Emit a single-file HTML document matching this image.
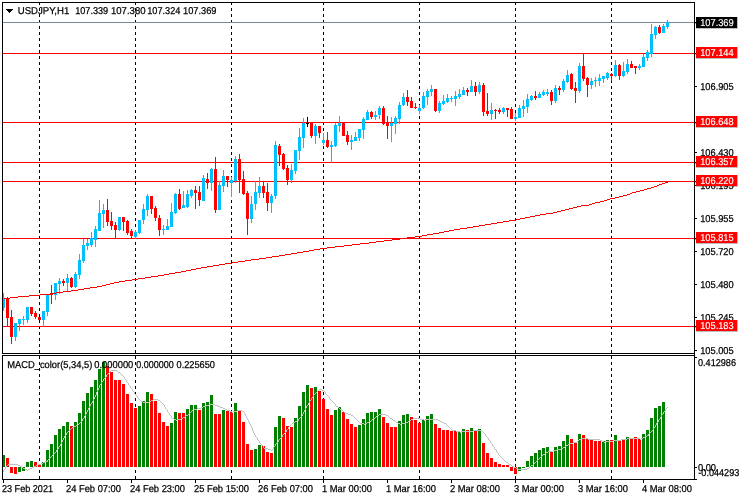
<!DOCTYPE html>
<html><head><meta charset="utf-8"><title>USDJPY,H1</title>
<style>html,body{margin:0;padding:0;background:#fff}body{width:740px;height:500px;overflow:hidden}svg{display:block}</style>
</head><body>
<svg width="740" height="500" viewBox="0 0 740 500" shape-rendering="crispEdges">
<rect width="740" height="500" fill="#fff"/>
<rect x="39" y="3" width="1" height="2" fill="#000"/>
<rect x="39" y="8" width="1" height="3" fill="#000"/>
<rect x="39" y="14" width="1" height="3" fill="#000"/>
<rect x="39" y="20" width="1" height="3" fill="#000"/>
<rect x="39" y="26" width="1" height="3" fill="#000"/>
<rect x="39" y="32" width="1" height="3" fill="#000"/>
<rect x="39" y="38" width="1" height="3" fill="#000"/>
<rect x="39" y="44" width="1" height="3" fill="#000"/>
<rect x="39" y="50" width="1" height="3" fill="#000"/>
<rect x="39" y="56" width="1" height="3" fill="#000"/>
<rect x="39" y="62" width="1" height="3" fill="#000"/>
<rect x="39" y="68" width="1" height="3" fill="#000"/>
<rect x="39" y="74" width="1" height="3" fill="#000"/>
<rect x="39" y="80" width="1" height="3" fill="#000"/>
<rect x="39" y="86" width="1" height="3" fill="#000"/>
<rect x="39" y="92" width="1" height="3" fill="#000"/>
<rect x="39" y="98" width="1" height="3" fill="#000"/>
<rect x="39" y="104" width="1" height="3" fill="#000"/>
<rect x="39" y="110" width="1" height="3" fill="#000"/>
<rect x="39" y="116" width="1" height="3" fill="#000"/>
<rect x="39" y="122" width="1" height="3" fill="#000"/>
<rect x="39" y="128" width="1" height="3" fill="#000"/>
<rect x="39" y="134" width="1" height="3" fill="#000"/>
<rect x="39" y="140" width="1" height="3" fill="#000"/>
<rect x="39" y="146" width="1" height="3" fill="#000"/>
<rect x="39" y="152" width="1" height="3" fill="#000"/>
<rect x="39" y="158" width="1" height="3" fill="#000"/>
<rect x="39" y="164" width="1" height="3" fill="#000"/>
<rect x="39" y="170" width="1" height="3" fill="#000"/>
<rect x="39" y="176" width="1" height="3" fill="#000"/>
<rect x="39" y="182" width="1" height="3" fill="#000"/>
<rect x="39" y="188" width="1" height="3" fill="#000"/>
<rect x="39" y="194" width="1" height="3" fill="#000"/>
<rect x="39" y="200" width="1" height="3" fill="#000"/>
<rect x="39" y="206" width="1" height="3" fill="#000"/>
<rect x="39" y="212" width="1" height="3" fill="#000"/>
<rect x="39" y="218" width="1" height="3" fill="#000"/>
<rect x="39" y="224" width="1" height="3" fill="#000"/>
<rect x="39" y="230" width="1" height="3" fill="#000"/>
<rect x="39" y="236" width="1" height="3" fill="#000"/>
<rect x="39" y="242" width="1" height="3" fill="#000"/>
<rect x="39" y="248" width="1" height="3" fill="#000"/>
<rect x="39" y="254" width="1" height="3" fill="#000"/>
<rect x="39" y="260" width="1" height="3" fill="#000"/>
<rect x="39" y="266" width="1" height="3" fill="#000"/>
<rect x="39" y="272" width="1" height="3" fill="#000"/>
<rect x="39" y="278" width="1" height="3" fill="#000"/>
<rect x="39" y="284" width="1" height="3" fill="#000"/>
<rect x="39" y="290" width="1" height="3" fill="#000"/>
<rect x="39" y="296" width="1" height="3" fill="#000"/>
<rect x="39" y="302" width="1" height="3" fill="#000"/>
<rect x="39" y="308" width="1" height="3" fill="#000"/>
<rect x="39" y="314" width="1" height="3" fill="#000"/>
<rect x="39" y="320" width="1" height="3" fill="#000"/>
<rect x="39" y="326" width="1" height="3" fill="#000"/>
<rect x="39" y="332" width="1" height="3" fill="#000"/>
<rect x="39" y="338" width="1" height="3" fill="#000"/>
<rect x="39" y="344" width="1" height="3" fill="#000"/>
<rect x="39" y="350" width="1" height="3" fill="#000"/>
<rect x="39" y="356" width="1" height="3" fill="#000"/>
<rect x="39" y="362" width="1" height="3" fill="#000"/>
<rect x="39" y="368" width="1" height="3" fill="#000"/>
<rect x="39" y="374" width="1" height="3" fill="#000"/>
<rect x="39" y="380" width="1" height="3" fill="#000"/>
<rect x="39" y="386" width="1" height="3" fill="#000"/>
<rect x="39" y="392" width="1" height="3" fill="#000"/>
<rect x="39" y="398" width="1" height="3" fill="#000"/>
<rect x="39" y="404" width="1" height="3" fill="#000"/>
<rect x="39" y="410" width="1" height="3" fill="#000"/>
<rect x="39" y="416" width="1" height="3" fill="#000"/>
<rect x="39" y="422" width="1" height="3" fill="#000"/>
<rect x="39" y="428" width="1" height="3" fill="#000"/>
<rect x="39" y="434" width="1" height="3" fill="#000"/>
<rect x="39" y="440" width="1" height="3" fill="#000"/>
<rect x="39" y="446" width="1" height="3" fill="#000"/>
<rect x="39" y="452" width="1" height="3" fill="#000"/>
<rect x="39" y="458" width="1" height="3" fill="#000"/>
<rect x="39" y="464" width="1" height="3" fill="#000"/>
<rect x="39" y="470" width="1" height="3" fill="#000"/>
<rect x="39" y="476" width="1" height="3" fill="#000"/>
<rect x="135" y="3" width="1" height="2" fill="#000"/>
<rect x="135" y="8" width="1" height="3" fill="#000"/>
<rect x="135" y="14" width="1" height="3" fill="#000"/>
<rect x="135" y="20" width="1" height="3" fill="#000"/>
<rect x="135" y="26" width="1" height="3" fill="#000"/>
<rect x="135" y="32" width="1" height="3" fill="#000"/>
<rect x="135" y="38" width="1" height="3" fill="#000"/>
<rect x="135" y="44" width="1" height="3" fill="#000"/>
<rect x="135" y="50" width="1" height="3" fill="#000"/>
<rect x="135" y="56" width="1" height="3" fill="#000"/>
<rect x="135" y="62" width="1" height="3" fill="#000"/>
<rect x="135" y="68" width="1" height="3" fill="#000"/>
<rect x="135" y="74" width="1" height="3" fill="#000"/>
<rect x="135" y="80" width="1" height="3" fill="#000"/>
<rect x="135" y="86" width="1" height="3" fill="#000"/>
<rect x="135" y="92" width="1" height="3" fill="#000"/>
<rect x="135" y="98" width="1" height="3" fill="#000"/>
<rect x="135" y="104" width="1" height="3" fill="#000"/>
<rect x="135" y="110" width="1" height="3" fill="#000"/>
<rect x="135" y="116" width="1" height="3" fill="#000"/>
<rect x="135" y="122" width="1" height="3" fill="#000"/>
<rect x="135" y="128" width="1" height="3" fill="#000"/>
<rect x="135" y="134" width="1" height="3" fill="#000"/>
<rect x="135" y="140" width="1" height="3" fill="#000"/>
<rect x="135" y="146" width="1" height="3" fill="#000"/>
<rect x="135" y="152" width="1" height="3" fill="#000"/>
<rect x="135" y="158" width="1" height="3" fill="#000"/>
<rect x="135" y="164" width="1" height="3" fill="#000"/>
<rect x="135" y="170" width="1" height="3" fill="#000"/>
<rect x="135" y="176" width="1" height="3" fill="#000"/>
<rect x="135" y="182" width="1" height="3" fill="#000"/>
<rect x="135" y="188" width="1" height="3" fill="#000"/>
<rect x="135" y="194" width="1" height="3" fill="#000"/>
<rect x="135" y="200" width="1" height="3" fill="#000"/>
<rect x="135" y="206" width="1" height="3" fill="#000"/>
<rect x="135" y="212" width="1" height="3" fill="#000"/>
<rect x="135" y="218" width="1" height="3" fill="#000"/>
<rect x="135" y="224" width="1" height="3" fill="#000"/>
<rect x="135" y="230" width="1" height="3" fill="#000"/>
<rect x="135" y="236" width="1" height="3" fill="#000"/>
<rect x="135" y="242" width="1" height="3" fill="#000"/>
<rect x="135" y="248" width="1" height="3" fill="#000"/>
<rect x="135" y="254" width="1" height="3" fill="#000"/>
<rect x="135" y="260" width="1" height="3" fill="#000"/>
<rect x="135" y="266" width="1" height="3" fill="#000"/>
<rect x="135" y="272" width="1" height="3" fill="#000"/>
<rect x="135" y="278" width="1" height="3" fill="#000"/>
<rect x="135" y="284" width="1" height="3" fill="#000"/>
<rect x="135" y="290" width="1" height="3" fill="#000"/>
<rect x="135" y="296" width="1" height="3" fill="#000"/>
<rect x="135" y="302" width="1" height="3" fill="#000"/>
<rect x="135" y="308" width="1" height="3" fill="#000"/>
<rect x="135" y="314" width="1" height="3" fill="#000"/>
<rect x="135" y="320" width="1" height="3" fill="#000"/>
<rect x="135" y="326" width="1" height="3" fill="#000"/>
<rect x="135" y="332" width="1" height="3" fill="#000"/>
<rect x="135" y="338" width="1" height="3" fill="#000"/>
<rect x="135" y="344" width="1" height="3" fill="#000"/>
<rect x="135" y="350" width="1" height="3" fill="#000"/>
<rect x="135" y="356" width="1" height="3" fill="#000"/>
<rect x="135" y="362" width="1" height="3" fill="#000"/>
<rect x="135" y="368" width="1" height="3" fill="#000"/>
<rect x="135" y="374" width="1" height="3" fill="#000"/>
<rect x="135" y="380" width="1" height="3" fill="#000"/>
<rect x="135" y="386" width="1" height="3" fill="#000"/>
<rect x="135" y="392" width="1" height="3" fill="#000"/>
<rect x="135" y="398" width="1" height="3" fill="#000"/>
<rect x="135" y="404" width="1" height="3" fill="#000"/>
<rect x="135" y="410" width="1" height="3" fill="#000"/>
<rect x="135" y="416" width="1" height="3" fill="#000"/>
<rect x="135" y="422" width="1" height="3" fill="#000"/>
<rect x="135" y="428" width="1" height="3" fill="#000"/>
<rect x="135" y="434" width="1" height="3" fill="#000"/>
<rect x="135" y="440" width="1" height="3" fill="#000"/>
<rect x="135" y="446" width="1" height="3" fill="#000"/>
<rect x="135" y="452" width="1" height="3" fill="#000"/>
<rect x="135" y="458" width="1" height="3" fill="#000"/>
<rect x="135" y="464" width="1" height="3" fill="#000"/>
<rect x="135" y="470" width="1" height="3" fill="#000"/>
<rect x="135" y="476" width="1" height="3" fill="#000"/>
<rect x="231" y="3" width="1" height="2" fill="#000"/>
<rect x="231" y="8" width="1" height="3" fill="#000"/>
<rect x="231" y="14" width="1" height="3" fill="#000"/>
<rect x="231" y="20" width="1" height="3" fill="#000"/>
<rect x="231" y="26" width="1" height="3" fill="#000"/>
<rect x="231" y="32" width="1" height="3" fill="#000"/>
<rect x="231" y="38" width="1" height="3" fill="#000"/>
<rect x="231" y="44" width="1" height="3" fill="#000"/>
<rect x="231" y="50" width="1" height="3" fill="#000"/>
<rect x="231" y="56" width="1" height="3" fill="#000"/>
<rect x="231" y="62" width="1" height="3" fill="#000"/>
<rect x="231" y="68" width="1" height="3" fill="#000"/>
<rect x="231" y="74" width="1" height="3" fill="#000"/>
<rect x="231" y="80" width="1" height="3" fill="#000"/>
<rect x="231" y="86" width="1" height="3" fill="#000"/>
<rect x="231" y="92" width="1" height="3" fill="#000"/>
<rect x="231" y="98" width="1" height="3" fill="#000"/>
<rect x="231" y="104" width="1" height="3" fill="#000"/>
<rect x="231" y="110" width="1" height="3" fill="#000"/>
<rect x="231" y="116" width="1" height="3" fill="#000"/>
<rect x="231" y="122" width="1" height="3" fill="#000"/>
<rect x="231" y="128" width="1" height="3" fill="#000"/>
<rect x="231" y="134" width="1" height="3" fill="#000"/>
<rect x="231" y="140" width="1" height="3" fill="#000"/>
<rect x="231" y="146" width="1" height="3" fill="#000"/>
<rect x="231" y="152" width="1" height="3" fill="#000"/>
<rect x="231" y="158" width="1" height="3" fill="#000"/>
<rect x="231" y="164" width="1" height="3" fill="#000"/>
<rect x="231" y="170" width="1" height="3" fill="#000"/>
<rect x="231" y="176" width="1" height="3" fill="#000"/>
<rect x="231" y="182" width="1" height="3" fill="#000"/>
<rect x="231" y="188" width="1" height="3" fill="#000"/>
<rect x="231" y="194" width="1" height="3" fill="#000"/>
<rect x="231" y="200" width="1" height="3" fill="#000"/>
<rect x="231" y="206" width="1" height="3" fill="#000"/>
<rect x="231" y="212" width="1" height="3" fill="#000"/>
<rect x="231" y="218" width="1" height="3" fill="#000"/>
<rect x="231" y="224" width="1" height="3" fill="#000"/>
<rect x="231" y="230" width="1" height="3" fill="#000"/>
<rect x="231" y="236" width="1" height="3" fill="#000"/>
<rect x="231" y="242" width="1" height="3" fill="#000"/>
<rect x="231" y="248" width="1" height="3" fill="#000"/>
<rect x="231" y="254" width="1" height="3" fill="#000"/>
<rect x="231" y="260" width="1" height="3" fill="#000"/>
<rect x="231" y="266" width="1" height="3" fill="#000"/>
<rect x="231" y="272" width="1" height="3" fill="#000"/>
<rect x="231" y="278" width="1" height="3" fill="#000"/>
<rect x="231" y="284" width="1" height="3" fill="#000"/>
<rect x="231" y="290" width="1" height="3" fill="#000"/>
<rect x="231" y="296" width="1" height="3" fill="#000"/>
<rect x="231" y="302" width="1" height="3" fill="#000"/>
<rect x="231" y="308" width="1" height="3" fill="#000"/>
<rect x="231" y="314" width="1" height="3" fill="#000"/>
<rect x="231" y="320" width="1" height="3" fill="#000"/>
<rect x="231" y="326" width="1" height="3" fill="#000"/>
<rect x="231" y="332" width="1" height="3" fill="#000"/>
<rect x="231" y="338" width="1" height="3" fill="#000"/>
<rect x="231" y="344" width="1" height="3" fill="#000"/>
<rect x="231" y="350" width="1" height="3" fill="#000"/>
<rect x="231" y="356" width="1" height="3" fill="#000"/>
<rect x="231" y="362" width="1" height="3" fill="#000"/>
<rect x="231" y="368" width="1" height="3" fill="#000"/>
<rect x="231" y="374" width="1" height="3" fill="#000"/>
<rect x="231" y="380" width="1" height="3" fill="#000"/>
<rect x="231" y="386" width="1" height="3" fill="#000"/>
<rect x="231" y="392" width="1" height="3" fill="#000"/>
<rect x="231" y="398" width="1" height="3" fill="#000"/>
<rect x="231" y="404" width="1" height="3" fill="#000"/>
<rect x="231" y="410" width="1" height="3" fill="#000"/>
<rect x="231" y="416" width="1" height="3" fill="#000"/>
<rect x="231" y="422" width="1" height="3" fill="#000"/>
<rect x="231" y="428" width="1" height="3" fill="#000"/>
<rect x="231" y="434" width="1" height="3" fill="#000"/>
<rect x="231" y="440" width="1" height="3" fill="#000"/>
<rect x="231" y="446" width="1" height="3" fill="#000"/>
<rect x="231" y="452" width="1" height="3" fill="#000"/>
<rect x="231" y="458" width="1" height="3" fill="#000"/>
<rect x="231" y="464" width="1" height="3" fill="#000"/>
<rect x="231" y="470" width="1" height="3" fill="#000"/>
<rect x="231" y="476" width="1" height="3" fill="#000"/>
<rect x="323" y="3" width="1" height="2" fill="#000"/>
<rect x="323" y="8" width="1" height="3" fill="#000"/>
<rect x="323" y="14" width="1" height="3" fill="#000"/>
<rect x="323" y="20" width="1" height="3" fill="#000"/>
<rect x="323" y="26" width="1" height="3" fill="#000"/>
<rect x="323" y="32" width="1" height="3" fill="#000"/>
<rect x="323" y="38" width="1" height="3" fill="#000"/>
<rect x="323" y="44" width="1" height="3" fill="#000"/>
<rect x="323" y="50" width="1" height="3" fill="#000"/>
<rect x="323" y="56" width="1" height="3" fill="#000"/>
<rect x="323" y="62" width="1" height="3" fill="#000"/>
<rect x="323" y="68" width="1" height="3" fill="#000"/>
<rect x="323" y="74" width="1" height="3" fill="#000"/>
<rect x="323" y="80" width="1" height="3" fill="#000"/>
<rect x="323" y="86" width="1" height="3" fill="#000"/>
<rect x="323" y="92" width="1" height="3" fill="#000"/>
<rect x="323" y="98" width="1" height="3" fill="#000"/>
<rect x="323" y="104" width="1" height="3" fill="#000"/>
<rect x="323" y="110" width="1" height="3" fill="#000"/>
<rect x="323" y="116" width="1" height="3" fill="#000"/>
<rect x="323" y="122" width="1" height="3" fill="#000"/>
<rect x="323" y="128" width="1" height="3" fill="#000"/>
<rect x="323" y="134" width="1" height="3" fill="#000"/>
<rect x="323" y="140" width="1" height="3" fill="#000"/>
<rect x="323" y="146" width="1" height="3" fill="#000"/>
<rect x="323" y="152" width="1" height="3" fill="#000"/>
<rect x="323" y="158" width="1" height="3" fill="#000"/>
<rect x="323" y="164" width="1" height="3" fill="#000"/>
<rect x="323" y="170" width="1" height="3" fill="#000"/>
<rect x="323" y="176" width="1" height="3" fill="#000"/>
<rect x="323" y="182" width="1" height="3" fill="#000"/>
<rect x="323" y="188" width="1" height="3" fill="#000"/>
<rect x="323" y="194" width="1" height="3" fill="#000"/>
<rect x="323" y="200" width="1" height="3" fill="#000"/>
<rect x="323" y="206" width="1" height="3" fill="#000"/>
<rect x="323" y="212" width="1" height="3" fill="#000"/>
<rect x="323" y="218" width="1" height="3" fill="#000"/>
<rect x="323" y="224" width="1" height="3" fill="#000"/>
<rect x="323" y="230" width="1" height="3" fill="#000"/>
<rect x="323" y="236" width="1" height="3" fill="#000"/>
<rect x="323" y="242" width="1" height="3" fill="#000"/>
<rect x="323" y="248" width="1" height="3" fill="#000"/>
<rect x="323" y="254" width="1" height="3" fill="#000"/>
<rect x="323" y="260" width="1" height="3" fill="#000"/>
<rect x="323" y="266" width="1" height="3" fill="#000"/>
<rect x="323" y="272" width="1" height="3" fill="#000"/>
<rect x="323" y="278" width="1" height="3" fill="#000"/>
<rect x="323" y="284" width="1" height="3" fill="#000"/>
<rect x="323" y="290" width="1" height="3" fill="#000"/>
<rect x="323" y="296" width="1" height="3" fill="#000"/>
<rect x="323" y="302" width="1" height="3" fill="#000"/>
<rect x="323" y="308" width="1" height="3" fill="#000"/>
<rect x="323" y="314" width="1" height="3" fill="#000"/>
<rect x="323" y="320" width="1" height="3" fill="#000"/>
<rect x="323" y="326" width="1" height="3" fill="#000"/>
<rect x="323" y="332" width="1" height="3" fill="#000"/>
<rect x="323" y="338" width="1" height="3" fill="#000"/>
<rect x="323" y="344" width="1" height="3" fill="#000"/>
<rect x="323" y="350" width="1" height="3" fill="#000"/>
<rect x="323" y="356" width="1" height="3" fill="#000"/>
<rect x="323" y="362" width="1" height="3" fill="#000"/>
<rect x="323" y="368" width="1" height="3" fill="#000"/>
<rect x="323" y="374" width="1" height="3" fill="#000"/>
<rect x="323" y="380" width="1" height="3" fill="#000"/>
<rect x="323" y="386" width="1" height="3" fill="#000"/>
<rect x="323" y="392" width="1" height="3" fill="#000"/>
<rect x="323" y="398" width="1" height="3" fill="#000"/>
<rect x="323" y="404" width="1" height="3" fill="#000"/>
<rect x="323" y="410" width="1" height="3" fill="#000"/>
<rect x="323" y="416" width="1" height="3" fill="#000"/>
<rect x="323" y="422" width="1" height="3" fill="#000"/>
<rect x="323" y="428" width="1" height="3" fill="#000"/>
<rect x="323" y="434" width="1" height="3" fill="#000"/>
<rect x="323" y="440" width="1" height="3" fill="#000"/>
<rect x="323" y="446" width="1" height="3" fill="#000"/>
<rect x="323" y="452" width="1" height="3" fill="#000"/>
<rect x="323" y="458" width="1" height="3" fill="#000"/>
<rect x="323" y="464" width="1" height="3" fill="#000"/>
<rect x="323" y="470" width="1" height="3" fill="#000"/>
<rect x="323" y="476" width="1" height="3" fill="#000"/>
<rect x="419" y="3" width="1" height="2" fill="#000"/>
<rect x="419" y="8" width="1" height="3" fill="#000"/>
<rect x="419" y="14" width="1" height="3" fill="#000"/>
<rect x="419" y="20" width="1" height="3" fill="#000"/>
<rect x="419" y="26" width="1" height="3" fill="#000"/>
<rect x="419" y="32" width="1" height="3" fill="#000"/>
<rect x="419" y="38" width="1" height="3" fill="#000"/>
<rect x="419" y="44" width="1" height="3" fill="#000"/>
<rect x="419" y="50" width="1" height="3" fill="#000"/>
<rect x="419" y="56" width="1" height="3" fill="#000"/>
<rect x="419" y="62" width="1" height="3" fill="#000"/>
<rect x="419" y="68" width="1" height="3" fill="#000"/>
<rect x="419" y="74" width="1" height="3" fill="#000"/>
<rect x="419" y="80" width="1" height="3" fill="#000"/>
<rect x="419" y="86" width="1" height="3" fill="#000"/>
<rect x="419" y="92" width="1" height="3" fill="#000"/>
<rect x="419" y="98" width="1" height="3" fill="#000"/>
<rect x="419" y="104" width="1" height="3" fill="#000"/>
<rect x="419" y="110" width="1" height="3" fill="#000"/>
<rect x="419" y="116" width="1" height="3" fill="#000"/>
<rect x="419" y="122" width="1" height="3" fill="#000"/>
<rect x="419" y="128" width="1" height="3" fill="#000"/>
<rect x="419" y="134" width="1" height="3" fill="#000"/>
<rect x="419" y="140" width="1" height="3" fill="#000"/>
<rect x="419" y="146" width="1" height="3" fill="#000"/>
<rect x="419" y="152" width="1" height="3" fill="#000"/>
<rect x="419" y="158" width="1" height="3" fill="#000"/>
<rect x="419" y="164" width="1" height="3" fill="#000"/>
<rect x="419" y="170" width="1" height="3" fill="#000"/>
<rect x="419" y="176" width="1" height="3" fill="#000"/>
<rect x="419" y="182" width="1" height="3" fill="#000"/>
<rect x="419" y="188" width="1" height="3" fill="#000"/>
<rect x="419" y="194" width="1" height="3" fill="#000"/>
<rect x="419" y="200" width="1" height="3" fill="#000"/>
<rect x="419" y="206" width="1" height="3" fill="#000"/>
<rect x="419" y="212" width="1" height="3" fill="#000"/>
<rect x="419" y="218" width="1" height="3" fill="#000"/>
<rect x="419" y="224" width="1" height="3" fill="#000"/>
<rect x="419" y="230" width="1" height="3" fill="#000"/>
<rect x="419" y="236" width="1" height="3" fill="#000"/>
<rect x="419" y="242" width="1" height="3" fill="#000"/>
<rect x="419" y="248" width="1" height="3" fill="#000"/>
<rect x="419" y="254" width="1" height="3" fill="#000"/>
<rect x="419" y="260" width="1" height="3" fill="#000"/>
<rect x="419" y="266" width="1" height="3" fill="#000"/>
<rect x="419" y="272" width="1" height="3" fill="#000"/>
<rect x="419" y="278" width="1" height="3" fill="#000"/>
<rect x="419" y="284" width="1" height="3" fill="#000"/>
<rect x="419" y="290" width="1" height="3" fill="#000"/>
<rect x="419" y="296" width="1" height="3" fill="#000"/>
<rect x="419" y="302" width="1" height="3" fill="#000"/>
<rect x="419" y="308" width="1" height="3" fill="#000"/>
<rect x="419" y="314" width="1" height="3" fill="#000"/>
<rect x="419" y="320" width="1" height="3" fill="#000"/>
<rect x="419" y="326" width="1" height="3" fill="#000"/>
<rect x="419" y="332" width="1" height="3" fill="#000"/>
<rect x="419" y="338" width="1" height="3" fill="#000"/>
<rect x="419" y="344" width="1" height="3" fill="#000"/>
<rect x="419" y="350" width="1" height="3" fill="#000"/>
<rect x="419" y="356" width="1" height="3" fill="#000"/>
<rect x="419" y="362" width="1" height="3" fill="#000"/>
<rect x="419" y="368" width="1" height="3" fill="#000"/>
<rect x="419" y="374" width="1" height="3" fill="#000"/>
<rect x="419" y="380" width="1" height="3" fill="#000"/>
<rect x="419" y="386" width="1" height="3" fill="#000"/>
<rect x="419" y="392" width="1" height="3" fill="#000"/>
<rect x="419" y="398" width="1" height="3" fill="#000"/>
<rect x="419" y="404" width="1" height="3" fill="#000"/>
<rect x="419" y="410" width="1" height="3" fill="#000"/>
<rect x="419" y="416" width="1" height="3" fill="#000"/>
<rect x="419" y="422" width="1" height="3" fill="#000"/>
<rect x="419" y="428" width="1" height="3" fill="#000"/>
<rect x="419" y="434" width="1" height="3" fill="#000"/>
<rect x="419" y="440" width="1" height="3" fill="#000"/>
<rect x="419" y="446" width="1" height="3" fill="#000"/>
<rect x="419" y="452" width="1" height="3" fill="#000"/>
<rect x="419" y="458" width="1" height="3" fill="#000"/>
<rect x="419" y="464" width="1" height="3" fill="#000"/>
<rect x="419" y="470" width="1" height="3" fill="#000"/>
<rect x="419" y="476" width="1" height="3" fill="#000"/>
<rect x="515" y="3" width="1" height="2" fill="#000"/>
<rect x="515" y="8" width="1" height="3" fill="#000"/>
<rect x="515" y="14" width="1" height="3" fill="#000"/>
<rect x="515" y="20" width="1" height="3" fill="#000"/>
<rect x="515" y="26" width="1" height="3" fill="#000"/>
<rect x="515" y="32" width="1" height="3" fill="#000"/>
<rect x="515" y="38" width="1" height="3" fill="#000"/>
<rect x="515" y="44" width="1" height="3" fill="#000"/>
<rect x="515" y="50" width="1" height="3" fill="#000"/>
<rect x="515" y="56" width="1" height="3" fill="#000"/>
<rect x="515" y="62" width="1" height="3" fill="#000"/>
<rect x="515" y="68" width="1" height="3" fill="#000"/>
<rect x="515" y="74" width="1" height="3" fill="#000"/>
<rect x="515" y="80" width="1" height="3" fill="#000"/>
<rect x="515" y="86" width="1" height="3" fill="#000"/>
<rect x="515" y="92" width="1" height="3" fill="#000"/>
<rect x="515" y="98" width="1" height="3" fill="#000"/>
<rect x="515" y="104" width="1" height="3" fill="#000"/>
<rect x="515" y="110" width="1" height="3" fill="#000"/>
<rect x="515" y="116" width="1" height="3" fill="#000"/>
<rect x="515" y="122" width="1" height="3" fill="#000"/>
<rect x="515" y="128" width="1" height="3" fill="#000"/>
<rect x="515" y="134" width="1" height="3" fill="#000"/>
<rect x="515" y="140" width="1" height="3" fill="#000"/>
<rect x="515" y="146" width="1" height="3" fill="#000"/>
<rect x="515" y="152" width="1" height="3" fill="#000"/>
<rect x="515" y="158" width="1" height="3" fill="#000"/>
<rect x="515" y="164" width="1" height="3" fill="#000"/>
<rect x="515" y="170" width="1" height="3" fill="#000"/>
<rect x="515" y="176" width="1" height="3" fill="#000"/>
<rect x="515" y="182" width="1" height="3" fill="#000"/>
<rect x="515" y="188" width="1" height="3" fill="#000"/>
<rect x="515" y="194" width="1" height="3" fill="#000"/>
<rect x="515" y="200" width="1" height="3" fill="#000"/>
<rect x="515" y="206" width="1" height="3" fill="#000"/>
<rect x="515" y="212" width="1" height="3" fill="#000"/>
<rect x="515" y="218" width="1" height="3" fill="#000"/>
<rect x="515" y="224" width="1" height="3" fill="#000"/>
<rect x="515" y="230" width="1" height="3" fill="#000"/>
<rect x="515" y="236" width="1" height="3" fill="#000"/>
<rect x="515" y="242" width="1" height="3" fill="#000"/>
<rect x="515" y="248" width="1" height="3" fill="#000"/>
<rect x="515" y="254" width="1" height="3" fill="#000"/>
<rect x="515" y="260" width="1" height="3" fill="#000"/>
<rect x="515" y="266" width="1" height="3" fill="#000"/>
<rect x="515" y="272" width="1" height="3" fill="#000"/>
<rect x="515" y="278" width="1" height="3" fill="#000"/>
<rect x="515" y="284" width="1" height="3" fill="#000"/>
<rect x="515" y="290" width="1" height="3" fill="#000"/>
<rect x="515" y="296" width="1" height="3" fill="#000"/>
<rect x="515" y="302" width="1" height="3" fill="#000"/>
<rect x="515" y="308" width="1" height="3" fill="#000"/>
<rect x="515" y="314" width="1" height="3" fill="#000"/>
<rect x="515" y="320" width="1" height="3" fill="#000"/>
<rect x="515" y="326" width="1" height="3" fill="#000"/>
<rect x="515" y="332" width="1" height="3" fill="#000"/>
<rect x="515" y="338" width="1" height="3" fill="#000"/>
<rect x="515" y="344" width="1" height="3" fill="#000"/>
<rect x="515" y="350" width="1" height="3" fill="#000"/>
<rect x="515" y="356" width="1" height="3" fill="#000"/>
<rect x="515" y="362" width="1" height="3" fill="#000"/>
<rect x="515" y="368" width="1" height="3" fill="#000"/>
<rect x="515" y="374" width="1" height="3" fill="#000"/>
<rect x="515" y="380" width="1" height="3" fill="#000"/>
<rect x="515" y="386" width="1" height="3" fill="#000"/>
<rect x="515" y="392" width="1" height="3" fill="#000"/>
<rect x="515" y="398" width="1" height="3" fill="#000"/>
<rect x="515" y="404" width="1" height="3" fill="#000"/>
<rect x="515" y="410" width="1" height="3" fill="#000"/>
<rect x="515" y="416" width="1" height="3" fill="#000"/>
<rect x="515" y="422" width="1" height="3" fill="#000"/>
<rect x="515" y="428" width="1" height="3" fill="#000"/>
<rect x="515" y="434" width="1" height="3" fill="#000"/>
<rect x="515" y="440" width="1" height="3" fill="#000"/>
<rect x="515" y="446" width="1" height="3" fill="#000"/>
<rect x="515" y="452" width="1" height="3" fill="#000"/>
<rect x="515" y="458" width="1" height="3" fill="#000"/>
<rect x="515" y="464" width="1" height="3" fill="#000"/>
<rect x="515" y="470" width="1" height="3" fill="#000"/>
<rect x="515" y="476" width="1" height="3" fill="#000"/>
<rect x="611" y="3" width="1" height="2" fill="#000"/>
<rect x="611" y="8" width="1" height="3" fill="#000"/>
<rect x="611" y="14" width="1" height="3" fill="#000"/>
<rect x="611" y="20" width="1" height="3" fill="#000"/>
<rect x="611" y="26" width="1" height="3" fill="#000"/>
<rect x="611" y="32" width="1" height="3" fill="#000"/>
<rect x="611" y="38" width="1" height="3" fill="#000"/>
<rect x="611" y="44" width="1" height="3" fill="#000"/>
<rect x="611" y="50" width="1" height="3" fill="#000"/>
<rect x="611" y="56" width="1" height="3" fill="#000"/>
<rect x="611" y="62" width="1" height="3" fill="#000"/>
<rect x="611" y="68" width="1" height="3" fill="#000"/>
<rect x="611" y="74" width="1" height="3" fill="#000"/>
<rect x="611" y="80" width="1" height="3" fill="#000"/>
<rect x="611" y="86" width="1" height="3" fill="#000"/>
<rect x="611" y="92" width="1" height="3" fill="#000"/>
<rect x="611" y="98" width="1" height="3" fill="#000"/>
<rect x="611" y="104" width="1" height="3" fill="#000"/>
<rect x="611" y="110" width="1" height="3" fill="#000"/>
<rect x="611" y="116" width="1" height="3" fill="#000"/>
<rect x="611" y="122" width="1" height="3" fill="#000"/>
<rect x="611" y="128" width="1" height="3" fill="#000"/>
<rect x="611" y="134" width="1" height="3" fill="#000"/>
<rect x="611" y="140" width="1" height="3" fill="#000"/>
<rect x="611" y="146" width="1" height="3" fill="#000"/>
<rect x="611" y="152" width="1" height="3" fill="#000"/>
<rect x="611" y="158" width="1" height="3" fill="#000"/>
<rect x="611" y="164" width="1" height="3" fill="#000"/>
<rect x="611" y="170" width="1" height="3" fill="#000"/>
<rect x="611" y="176" width="1" height="3" fill="#000"/>
<rect x="611" y="182" width="1" height="3" fill="#000"/>
<rect x="611" y="188" width="1" height="3" fill="#000"/>
<rect x="611" y="194" width="1" height="3" fill="#000"/>
<rect x="611" y="200" width="1" height="3" fill="#000"/>
<rect x="611" y="206" width="1" height="3" fill="#000"/>
<rect x="611" y="212" width="1" height="3" fill="#000"/>
<rect x="611" y="218" width="1" height="3" fill="#000"/>
<rect x="611" y="224" width="1" height="3" fill="#000"/>
<rect x="611" y="230" width="1" height="3" fill="#000"/>
<rect x="611" y="236" width="1" height="3" fill="#000"/>
<rect x="611" y="242" width="1" height="3" fill="#000"/>
<rect x="611" y="248" width="1" height="3" fill="#000"/>
<rect x="611" y="254" width="1" height="3" fill="#000"/>
<rect x="611" y="260" width="1" height="3" fill="#000"/>
<rect x="611" y="266" width="1" height="3" fill="#000"/>
<rect x="611" y="272" width="1" height="3" fill="#000"/>
<rect x="611" y="278" width="1" height="3" fill="#000"/>
<rect x="611" y="284" width="1" height="3" fill="#000"/>
<rect x="611" y="290" width="1" height="3" fill="#000"/>
<rect x="611" y="296" width="1" height="3" fill="#000"/>
<rect x="611" y="302" width="1" height="3" fill="#000"/>
<rect x="611" y="308" width="1" height="3" fill="#000"/>
<rect x="611" y="314" width="1" height="3" fill="#000"/>
<rect x="611" y="320" width="1" height="3" fill="#000"/>
<rect x="611" y="326" width="1" height="3" fill="#000"/>
<rect x="611" y="332" width="1" height="3" fill="#000"/>
<rect x="611" y="338" width="1" height="3" fill="#000"/>
<rect x="611" y="344" width="1" height="3" fill="#000"/>
<rect x="611" y="350" width="1" height="3" fill="#000"/>
<rect x="611" y="356" width="1" height="3" fill="#000"/>
<rect x="611" y="362" width="1" height="3" fill="#000"/>
<rect x="611" y="368" width="1" height="3" fill="#000"/>
<rect x="611" y="374" width="1" height="3" fill="#000"/>
<rect x="611" y="380" width="1" height="3" fill="#000"/>
<rect x="611" y="386" width="1" height="3" fill="#000"/>
<rect x="611" y="392" width="1" height="3" fill="#000"/>
<rect x="611" y="398" width="1" height="3" fill="#000"/>
<rect x="611" y="404" width="1" height="3" fill="#000"/>
<rect x="611" y="410" width="1" height="3" fill="#000"/>
<rect x="611" y="416" width="1" height="3" fill="#000"/>
<rect x="611" y="422" width="1" height="3" fill="#000"/>
<rect x="611" y="428" width="1" height="3" fill="#000"/>
<rect x="611" y="434" width="1" height="3" fill="#000"/>
<rect x="611" y="440" width="1" height="3" fill="#000"/>
<rect x="611" y="446" width="1" height="3" fill="#000"/>
<rect x="611" y="452" width="1" height="3" fill="#000"/>
<rect x="611" y="458" width="1" height="3" fill="#000"/>
<rect x="611" y="464" width="1" height="3" fill="#000"/>
<rect x="611" y="470" width="1" height="3" fill="#000"/>
<rect x="611" y="476" width="1" height="3" fill="#000"/>
<rect x="3" y="22" width="691" height="1" fill="#778899"/>
<rect x="3" y="53" width="691" height="1" fill="#FF0000"/>
<rect x="3" y="122" width="691" height="1" fill="#FF0000"/>
<rect x="3" y="162" width="691" height="1" fill="#FF0000"/>
<rect x="3" y="181" width="691" height="1" fill="#FF0000"/>
<rect x="3" y="238" width="691" height="1" fill="#FF0000"/>
<rect x="3" y="326" width="691" height="1" fill="#FF0000"/>
<rect x="3" y="293" width="1" height="18" fill="#00BFFF"/>
<rect x="2" y="298" width="3" height="10" fill="#00BFFF"/>
<rect x="7" y="297" width="1" height="30" fill="#FF0000"/>
<rect x="6" y="298" width="3" height="20" fill="#FF0000"/>
<rect x="11" y="310" width="1" height="34" fill="#FF0000"/>
<rect x="10" y="317" width="3" height="20" fill="#FF0000"/>
<rect x="15" y="323" width="1" height="18" fill="#00BFFF"/>
<rect x="14" y="323" width="3" height="14" fill="#00BFFF"/>
<rect x="19" y="319" width="1" height="12" fill="#00BFFF"/>
<rect x="18" y="319" width="3" height="5" fill="#00BFFF"/>
<rect x="23" y="316" width="1" height="9" fill="#00BFFF"/>
<rect x="22" y="319" width="3" height="1" fill="#00BFFF"/>
<rect x="27" y="307" width="1" height="16" fill="#00BFFF"/>
<rect x="26" y="307" width="3" height="13" fill="#00BFFF"/>
<rect x="31" y="307" width="1" height="9" fill="#FF0000"/>
<rect x="30" y="307" width="3" height="7" fill="#FF0000"/>
<rect x="35" y="311" width="1" height="8" fill="#FF0000"/>
<rect x="34" y="313" width="3" height="4" fill="#FF0000"/>
<rect x="39" y="317" width="1" height="3" fill="#FF0000"/>
<rect x="38" y="317" width="3" height="3" fill="#FF0000"/>
<rect x="43" y="311" width="1" height="16" fill="#00BFFF"/>
<rect x="42" y="311" width="3" height="9" fill="#00BFFF"/>
<rect x="47" y="294" width="1" height="22" fill="#00BFFF"/>
<rect x="46" y="294" width="3" height="18" fill="#00BFFF"/>
<rect x="51" y="285" width="1" height="19" fill="#FF0000"/>
<rect x="50" y="293" width="3" height="2" fill="#FF0000"/>
<rect x="55" y="283" width="1" height="17" fill="#00BFFF"/>
<rect x="54" y="283" width="3" height="12" fill="#00BFFF"/>
<rect x="59" y="278" width="1" height="16" fill="#00BFFF"/>
<rect x="58" y="281" width="3" height="3" fill="#00BFFF"/>
<rect x="63" y="279" width="1" height="7" fill="#FF0000"/>
<rect x="62" y="281" width="3" height="2" fill="#FF0000"/>
<rect x="67" y="274" width="1" height="17" fill="#00BFFF"/>
<rect x="66" y="278" width="3" height="5" fill="#00BFFF"/>
<rect x="71" y="277" width="1" height="11" fill="#FF0000"/>
<rect x="70" y="278" width="3" height="9" fill="#FF0000"/>
<rect x="75" y="272" width="1" height="16" fill="#00BFFF"/>
<rect x="74" y="274" width="3" height="13" fill="#00BFFF"/>
<rect x="79" y="254" width="1" height="25" fill="#00BFFF"/>
<rect x="78" y="260" width="3" height="15" fill="#00BFFF"/>
<rect x="83" y="239" width="1" height="24" fill="#00BFFF"/>
<rect x="82" y="245" width="3" height="16" fill="#00BFFF"/>
<rect x="87" y="239" width="1" height="11" fill="#00BFFF"/>
<rect x="86" y="243" width="3" height="3" fill="#00BFFF"/>
<rect x="91" y="232" width="1" height="15" fill="#00BFFF"/>
<rect x="90" y="238" width="3" height="7" fill="#00BFFF"/>
<rect x="95" y="226" width="1" height="21" fill="#00BFFF"/>
<rect x="94" y="229" width="3" height="11" fill="#00BFFF"/>
<rect x="99" y="200" width="1" height="31" fill="#00BFFF"/>
<rect x="98" y="213" width="3" height="18" fill="#00BFFF"/>
<rect x="103" y="204" width="1" height="24" fill="#00BFFF"/>
<rect x="102" y="210" width="3" height="4" fill="#00BFFF"/>
<rect x="107" y="199" width="1" height="27" fill="#FF0000"/>
<rect x="106" y="210" width="3" height="12" fill="#FF0000"/>
<rect x="111" y="212" width="1" height="18" fill="#FF0000"/>
<rect x="110" y="221" width="3" height="5" fill="#FF0000"/>
<rect x="115" y="222" width="1" height="17" fill="#FF0000"/>
<rect x="114" y="225" width="3" height="5" fill="#FF0000"/>
<rect x="119" y="217" width="1" height="14" fill="#00BFFF"/>
<rect x="118" y="217" width="3" height="13" fill="#00BFFF"/>
<rect x="123" y="217" width="1" height="14" fill="#FF0000"/>
<rect x="122" y="217" width="3" height="5" fill="#FF0000"/>
<rect x="127" y="220" width="1" height="15" fill="#FF0000"/>
<rect x="126" y="221" width="3" height="12" fill="#FF0000"/>
<rect x="131" y="229" width="1" height="10" fill="#FF0000"/>
<rect x="130" y="231" width="3" height="5" fill="#FF0000"/>
<rect x="135" y="230" width="1" height="9" fill="#00BFFF"/>
<rect x="134" y="232" width="3" height="5" fill="#00BFFF"/>
<rect x="139" y="220" width="1" height="14" fill="#00BFFF"/>
<rect x="138" y="220" width="3" height="13" fill="#00BFFF"/>
<rect x="143" y="204" width="1" height="20" fill="#00BFFF"/>
<rect x="142" y="209" width="3" height="11" fill="#00BFFF"/>
<rect x="147" y="194" width="1" height="22" fill="#00BFFF"/>
<rect x="146" y="196" width="3" height="14" fill="#00BFFF"/>
<rect x="151" y="196" width="1" height="18" fill="#FF0000"/>
<rect x="150" y="196" width="3" height="13" fill="#FF0000"/>
<rect x="155" y="206" width="1" height="15" fill="#FF0000"/>
<rect x="154" y="208" width="3" height="10" fill="#FF0000"/>
<rect x="159" y="215" width="1" height="21" fill="#FF0000"/>
<rect x="158" y="218" width="3" height="12" fill="#FF0000"/>
<rect x="163" y="225" width="1" height="10" fill="#00BFFF"/>
<rect x="162" y="229" width="3" height="1" fill="#00BFFF"/>
<rect x="167" y="219" width="1" height="11" fill="#00BFFF"/>
<rect x="166" y="226" width="3" height="4" fill="#00BFFF"/>
<rect x="171" y="203" width="1" height="24" fill="#00BFFF"/>
<rect x="170" y="212" width="3" height="15" fill="#00BFFF"/>
<rect x="175" y="193" width="1" height="21" fill="#00BFFF"/>
<rect x="174" y="194" width="3" height="19" fill="#00BFFF"/>
<rect x="179" y="189" width="1" height="21" fill="#FF0000"/>
<rect x="178" y="194" width="3" height="15" fill="#FF0000"/>
<rect x="183" y="191" width="1" height="17" fill="#00BFFF"/>
<rect x="182" y="205" width="3" height="3" fill="#00BFFF"/>
<rect x="187" y="190" width="1" height="18" fill="#00BFFF"/>
<rect x="186" y="194" width="3" height="13" fill="#00BFFF"/>
<rect x="191" y="189" width="1" height="9" fill="#00BFFF"/>
<rect x="190" y="190" width="3" height="6" fill="#00BFFF"/>
<rect x="195" y="186" width="1" height="23" fill="#FF0000"/>
<rect x="194" y="190" width="3" height="3" fill="#FF0000"/>
<rect x="199" y="186" width="1" height="20" fill="#FF0000"/>
<rect x="198" y="192" width="3" height="8" fill="#FF0000"/>
<rect x="203" y="175" width="1" height="26" fill="#00BFFF"/>
<rect x="202" y="178" width="3" height="23" fill="#00BFFF"/>
<rect x="207" y="173" width="1" height="16" fill="#FF0000"/>
<rect x="206" y="179" width="3" height="4" fill="#FF0000"/>
<rect x="211" y="168" width="1" height="23" fill="#00BFFF"/>
<rect x="210" y="169" width="3" height="14" fill="#00BFFF"/>
<rect x="215" y="157" width="1" height="56" fill="#FF0000"/>
<rect x="214" y="169" width="3" height="41" fill="#FF0000"/>
<rect x="219" y="181" width="1" height="29" fill="#00BFFF"/>
<rect x="218" y="185" width="3" height="25" fill="#00BFFF"/>
<rect x="223" y="170" width="1" height="22" fill="#00BFFF"/>
<rect x="222" y="176" width="3" height="10" fill="#00BFFF"/>
<rect x="227" y="176" width="1" height="11" fill="#FF0000"/>
<rect x="226" y="176" width="3" height="4" fill="#FF0000"/>
<rect x="231" y="177" width="1" height="20" fill="#00BFFF"/>
<rect x="230" y="180" width="3" height="3" fill="#00BFFF"/>
<rect x="235" y="156" width="1" height="27" fill="#00BFFF"/>
<rect x="234" y="159" width="3" height="22" fill="#00BFFF"/>
<rect x="239" y="154" width="1" height="39" fill="#FF0000"/>
<rect x="238" y="159" width="3" height="21" fill="#FF0000"/>
<rect x="243" y="171" width="1" height="24" fill="#FF0000"/>
<rect x="242" y="179" width="3" height="15" fill="#FF0000"/>
<rect x="247" y="191" width="1" height="44" fill="#FF0000"/>
<rect x="246" y="193" width="3" height="26" fill="#FF0000"/>
<rect x="251" y="196" width="1" height="27" fill="#00BFFF"/>
<rect x="250" y="204" width="3" height="15" fill="#00BFFF"/>
<rect x="255" y="181" width="1" height="29" fill="#00BFFF"/>
<rect x="254" y="192" width="3" height="12" fill="#00BFFF"/>
<rect x="259" y="177" width="1" height="21" fill="#00BFFF"/>
<rect x="258" y="186" width="3" height="7" fill="#00BFFF"/>
<rect x="263" y="182" width="1" height="16" fill="#FF0000"/>
<rect x="262" y="186" width="3" height="7" fill="#FF0000"/>
<rect x="267" y="183" width="1" height="28" fill="#FF0000"/>
<rect x="266" y="192" width="3" height="11" fill="#FF0000"/>
<rect x="271" y="194" width="1" height="19" fill="#00BFFF"/>
<rect x="270" y="196" width="3" height="7" fill="#00BFFF"/>
<rect x="275" y="141" width="1" height="58" fill="#00BFFF"/>
<rect x="274" y="145" width="3" height="51" fill="#00BFFF"/>
<rect x="279" y="144" width="1" height="22" fill="#FF0000"/>
<rect x="278" y="146" width="3" height="9" fill="#FF0000"/>
<rect x="283" y="153" width="1" height="17" fill="#FF0000"/>
<rect x="282" y="154" width="3" height="15" fill="#FF0000"/>
<rect x="287" y="165" width="1" height="20" fill="#FF0000"/>
<rect x="286" y="168" width="3" height="12" fill="#FF0000"/>
<rect x="291" y="164" width="1" height="19" fill="#00BFFF"/>
<rect x="290" y="170" width="3" height="10" fill="#00BFFF"/>
<rect x="295" y="150" width="1" height="24" fill="#00BFFF"/>
<rect x="294" y="150" width="3" height="21" fill="#00BFFF"/>
<rect x="299" y="128" width="1" height="32" fill="#00BFFF"/>
<rect x="298" y="137" width="3" height="14" fill="#00BFFF"/>
<rect x="303" y="118" width="1" height="30" fill="#00BFFF"/>
<rect x="302" y="123" width="3" height="15" fill="#00BFFF"/>
<rect x="307" y="117" width="1" height="10" fill="#000"/>
<rect x="306" y="123" width="3" height="1" fill="#000"/>
<rect x="311" y="123" width="1" height="15" fill="#FF0000"/>
<rect x="310" y="123" width="3" height="13" fill="#FF0000"/>
<rect x="315" y="124" width="1" height="20" fill="#00BFFF"/>
<rect x="314" y="126" width="3" height="10" fill="#00BFFF"/>
<rect x="319" y="126" width="1" height="12" fill="#FF0000"/>
<rect x="318" y="126" width="3" height="7" fill="#FF0000"/>
<rect x="323" y="133" width="1" height="12" fill="#00BFFF"/>
<rect x="322" y="140" width="3" height="3" fill="#00BFFF"/>
<rect x="327" y="132" width="1" height="16" fill="#FF0000"/>
<rect x="326" y="140" width="3" height="7" fill="#FF0000"/>
<rect x="331" y="141" width="1" height="22" fill="#00BFFF"/>
<rect x="330" y="145" width="3" height="2" fill="#00BFFF"/>
<rect x="335" y="123" width="1" height="24" fill="#00BFFF"/>
<rect x="334" y="125" width="3" height="21" fill="#00BFFF"/>
<rect x="339" y="116" width="1" height="16" fill="#00BFFF"/>
<rect x="338" y="123" width="3" height="3" fill="#00BFFF"/>
<rect x="343" y="123" width="1" height="13" fill="#FF0000"/>
<rect x="342" y="123" width="3" height="13" fill="#FF0000"/>
<rect x="347" y="131" width="1" height="14" fill="#FF0000"/>
<rect x="346" y="135" width="3" height="7" fill="#FF0000"/>
<rect x="351" y="135" width="1" height="15" fill="#00BFFF"/>
<rect x="350" y="140" width="3" height="2" fill="#00BFFF"/>
<rect x="355" y="132" width="1" height="9" fill="#00BFFF"/>
<rect x="354" y="137" width="3" height="4" fill="#00BFFF"/>
<rect x="359" y="129" width="1" height="12" fill="#00BFFF"/>
<rect x="358" y="129" width="3" height="9" fill="#00BFFF"/>
<rect x="363" y="117" width="1" height="22" fill="#00BFFF"/>
<rect x="362" y="119" width="3" height="11" fill="#00BFFF"/>
<rect x="367" y="110" width="1" height="10" fill="#00BFFF"/>
<rect x="366" y="112" width="3" height="8" fill="#00BFFF"/>
<rect x="371" y="111" width="1" height="8" fill="#FF0000"/>
<rect x="370" y="112" width="3" height="5" fill="#FF0000"/>
<rect x="375" y="111" width="1" height="9" fill="#00BFFF"/>
<rect x="374" y="115" width="3" height="2" fill="#00BFFF"/>
<rect x="379" y="106" width="1" height="13" fill="#00BFFF"/>
<rect x="378" y="108" width="3" height="7" fill="#00BFFF"/>
<rect x="383" y="106" width="1" height="19" fill="#FF0000"/>
<rect x="382" y="108" width="3" height="16" fill="#FF0000"/>
<rect x="387" y="116" width="1" height="23" fill="#FF0000"/>
<rect x="386" y="123" width="3" height="3" fill="#FF0000"/>
<rect x="391" y="117" width="1" height="25" fill="#00BFFF"/>
<rect x="390" y="123" width="3" height="3" fill="#00BFFF"/>
<rect x="395" y="116" width="1" height="18" fill="#00BFFF"/>
<rect x="394" y="118" width="3" height="6" fill="#00BFFF"/>
<rect x="399" y="102" width="1" height="22" fill="#00BFFF"/>
<rect x="398" y="105" width="3" height="14" fill="#00BFFF"/>
<rect x="403" y="93" width="1" height="13" fill="#00BFFF"/>
<rect x="402" y="97" width="3" height="8" fill="#00BFFF"/>
<rect x="407" y="90" width="1" height="16" fill="#FF0000"/>
<rect x="406" y="97" width="3" height="5" fill="#FF0000"/>
<rect x="411" y="97" width="1" height="11" fill="#FF0000"/>
<rect x="410" y="101" width="3" height="7" fill="#FF0000"/>
<rect x="415" y="103" width="1" height="6" fill="#FF0000"/>
<rect x="414" y="107" width="3" height="1" fill="#FF0000"/>
<rect x="419" y="105" width="1" height="9" fill="#00BFFF"/>
<rect x="418" y="108" width="3" height="3" fill="#00BFFF"/>
<rect x="423" y="92" width="1" height="17" fill="#00BFFF"/>
<rect x="422" y="96" width="3" height="12" fill="#00BFFF"/>
<rect x="427" y="89" width="1" height="16" fill="#00BFFF"/>
<rect x="426" y="91" width="3" height="6" fill="#00BFFF"/>
<rect x="431" y="85" width="1" height="11" fill="#00BFFF"/>
<rect x="430" y="89" width="3" height="3" fill="#00BFFF"/>
<rect x="435" y="89" width="1" height="23" fill="#FF0000"/>
<rect x="434" y="89" width="3" height="22" fill="#FF0000"/>
<rect x="439" y="101" width="1" height="12" fill="#00BFFF"/>
<rect x="438" y="103" width="3" height="8" fill="#00BFFF"/>
<rect x="443" y="95" width="1" height="10" fill="#00BFFF"/>
<rect x="442" y="101" width="3" height="3" fill="#00BFFF"/>
<rect x="447" y="94" width="1" height="9" fill="#00BFFF"/>
<rect x="446" y="98" width="3" height="4" fill="#00BFFF"/>
<rect x="451" y="96" width="1" height="6" fill="#00BFFF"/>
<rect x="450" y="98" width="3" height="1" fill="#00BFFF"/>
<rect x="455" y="91" width="1" height="15" fill="#00BFFF"/>
<rect x="454" y="96" width="3" height="3" fill="#00BFFF"/>
<rect x="459" y="89" width="1" height="10" fill="#00BFFF"/>
<rect x="458" y="94" width="3" height="3" fill="#00BFFF"/>
<rect x="463" y="87" width="1" height="8" fill="#00BFFF"/>
<rect x="462" y="90" width="3" height="5" fill="#00BFFF"/>
<rect x="467" y="88" width="1" height="8" fill="#FF0000"/>
<rect x="466" y="90" width="3" height="2" fill="#FF0000"/>
<rect x="471" y="80" width="1" height="12" fill="#00BFFF"/>
<rect x="470" y="86" width="3" height="6" fill="#00BFFF"/>
<rect x="475" y="82" width="1" height="14" fill="#FF0000"/>
<rect x="474" y="86" width="3" height="6" fill="#FF0000"/>
<rect x="479" y="82" width="1" height="12" fill="#00BFFF"/>
<rect x="478" y="85" width="3" height="7" fill="#00BFFF"/>
<rect x="483" y="83" width="1" height="33" fill="#FF0000"/>
<rect x="482" y="85" width="3" height="27" fill="#FF0000"/>
<rect x="487" y="93" width="1" height="23" fill="#FF0000"/>
<rect x="486" y="111" width="3" height="3" fill="#FF0000"/>
<rect x="491" y="103" width="1" height="17" fill="#00BFFF"/>
<rect x="490" y="110" width="3" height="4" fill="#00BFFF"/>
<rect x="495" y="109" width="1" height="10" fill="#FF0000"/>
<rect x="494" y="110" width="3" height="1" fill="#FF0000"/>
<rect x="499" y="108" width="1" height="6" fill="#FF0000"/>
<rect x="498" y="110" width="3" height="2" fill="#FF0000"/>
<rect x="503" y="107" width="1" height="7" fill="#00BFFF"/>
<rect x="502" y="108" width="3" height="4" fill="#00BFFF"/>
<rect x="507" y="108" width="1" height="9" fill="#FF0000"/>
<rect x="506" y="108" width="3" height="2" fill="#FF0000"/>
<rect x="511" y="107" width="1" height="12" fill="#FF0000"/>
<rect x="510" y="109" width="3" height="10" fill="#FF0000"/>
<rect x="515" y="113" width="1" height="8" fill="#00BFFF"/>
<rect x="514" y="117" width="3" height="2" fill="#00BFFF"/>
<rect x="519" y="105" width="1" height="13" fill="#00BFFF"/>
<rect x="518" y="108" width="3" height="10" fill="#00BFFF"/>
<rect x="523" y="100" width="1" height="17" fill="#00BFFF"/>
<rect x="522" y="106" width="3" height="3" fill="#00BFFF"/>
<rect x="527" y="94" width="1" height="19" fill="#00BFFF"/>
<rect x="526" y="99" width="3" height="8" fill="#00BFFF"/>
<rect x="531" y="95" width="1" height="6" fill="#00BFFF"/>
<rect x="530" y="96" width="3" height="4" fill="#00BFFF"/>
<rect x="535" y="91" width="1" height="9" fill="#FF0000"/>
<rect x="534" y="96" width="3" height="2" fill="#FF0000"/>
<rect x="539" y="92" width="1" height="6" fill="#00BFFF"/>
<rect x="538" y="94" width="3" height="4" fill="#00BFFF"/>
<rect x="543" y="90" width="1" height="6" fill="#00BFFF"/>
<rect x="542" y="92" width="3" height="3" fill="#00BFFF"/>
<rect x="547" y="89" width="1" height="7" fill="#00BFFF"/>
<rect x="546" y="92" width="3" height="2" fill="#00BFFF"/>
<rect x="551" y="90" width="1" height="15" fill="#FF0000"/>
<rect x="550" y="92" width="3" height="9" fill="#FF0000"/>
<rect x="555" y="85" width="1" height="18" fill="#00BFFF"/>
<rect x="554" y="88" width="3" height="13" fill="#00BFFF"/>
<rect x="559" y="86" width="1" height="9" fill="#FF0000"/>
<rect x="558" y="88" width="3" height="2" fill="#FF0000"/>
<rect x="563" y="79" width="1" height="13" fill="#00BFFF"/>
<rect x="562" y="81" width="3" height="9" fill="#00BFFF"/>
<rect x="567" y="70" width="1" height="13" fill="#00BFFF"/>
<rect x="566" y="75" width="3" height="7" fill="#00BFFF"/>
<rect x="571" y="73" width="1" height="17" fill="#FF0000"/>
<rect x="570" y="74" width="3" height="15" fill="#FF0000"/>
<rect x="575" y="82" width="1" height="21" fill="#FF0000"/>
<rect x="574" y="88" width="3" height="3" fill="#FF0000"/>
<rect x="579" y="63" width="1" height="30" fill="#00BFFF"/>
<rect x="578" y="66" width="3" height="25" fill="#00BFFF"/>
<rect x="583" y="53" width="1" height="28" fill="#FF0000"/>
<rect x="582" y="66" width="3" height="13" fill="#FF0000"/>
<rect x="587" y="77" width="1" height="20" fill="#FF0000"/>
<rect x="586" y="78" width="3" height="7" fill="#FF0000"/>
<rect x="591" y="78" width="1" height="11" fill="#00BFFF"/>
<rect x="590" y="81" width="3" height="4" fill="#00BFFF"/>
<rect x="595" y="77" width="1" height="10" fill="#00BFFF"/>
<rect x="594" y="80" width="3" height="1" fill="#00BFFF"/>
<rect x="599" y="74" width="1" height="12" fill="#00BFFF"/>
<rect x="598" y="78" width="3" height="3" fill="#00BFFF"/>
<rect x="603" y="76" width="1" height="7" fill="#00BFFF"/>
<rect x="602" y="76" width="3" height="3" fill="#00BFFF"/>
<rect x="607" y="72" width="1" height="8" fill="#00BFFF"/>
<rect x="606" y="73" width="3" height="5" fill="#00BFFF"/>
<rect x="611" y="73" width="1" height="8" fill="#FF0000"/>
<rect x="610" y="74" width="3" height="2" fill="#FF0000"/>
<rect x="615" y="60" width="1" height="17" fill="#00BFFF"/>
<rect x="614" y="65" width="3" height="11" fill="#00BFFF"/>
<rect x="619" y="64" width="1" height="16" fill="#FF0000"/>
<rect x="618" y="65" width="3" height="11" fill="#FF0000"/>
<rect x="623" y="62" width="1" height="15" fill="#00BFFF"/>
<rect x="622" y="71" width="3" height="5" fill="#00BFFF"/>
<rect x="627" y="59" width="1" height="15" fill="#00BFFF"/>
<rect x="626" y="64" width="3" height="8" fill="#00BFFF"/>
<rect x="631" y="61" width="1" height="7" fill="#FF0000"/>
<rect x="630" y="64" width="3" height="4" fill="#FF0000"/>
<rect x="635" y="66" width="1" height="8" fill="#FF0000"/>
<rect x="634" y="66" width="3" height="2" fill="#FF0000"/>
<rect x="639" y="64" width="1" height="6" fill="#00BFFF"/>
<rect x="638" y="66" width="3" height="2" fill="#00BFFF"/>
<rect x="643" y="54" width="1" height="13" fill="#00BFFF"/>
<rect x="642" y="57" width="3" height="10" fill="#00BFFF"/>
<rect x="647" y="50" width="1" height="11" fill="#00BFFF"/>
<rect x="646" y="52" width="3" height="6" fill="#00BFFF"/>
<rect x="651" y="24" width="1" height="33" fill="#00BFFF"/>
<rect x="650" y="34" width="3" height="20" fill="#00BFFF"/>
<rect x="655" y="26" width="1" height="13" fill="#00BFFF"/>
<rect x="654" y="27" width="3" height="8" fill="#00BFFF"/>
<rect x="659" y="25" width="1" height="9" fill="#FF0000"/>
<rect x="658" y="27" width="3" height="6" fill="#FF0000"/>
<rect x="663" y="24" width="1" height="9" fill="#00BFFF"/>
<rect x="662" y="26" width="3" height="7" fill="#00BFFF"/>
<rect x="667" y="20" width="1" height="9" fill="#00BFFF"/>
<rect x="666" y="22" width="3" height="5" fill="#00BFFF"/>
<path fill="#FF0000" d="M232 262h6v1h-6zM320 248h7v1h-7zM245 260h6v1h-6zM78 289h6v1h-6zM525 217h5v1h-5zM138 278h7v1h-7zM651 187h3v1h-3zM219 264h6v1h-6zM439 232h5v1h-5zM384 240h8v1h-8zM503 221h6v1h-6zM40 294h11v1h-11zM132 279h6v1h-6zM473 226h6v1h-6zM303 251h6v1h-6zM169 273h6v1h-6zM29 295h11v1h-11zM151 276h7v1h-7zM569 208h4v1h-4zM251 259h8v1h-8zM509 220h7v1h-7zM647 188h4v1h-4zM119 281h6v1h-6zM344 245h8v1h-8zM191 269h5v1h-5zM530 216h5v1h-5zM615 197h4v1h-4zM553 212h4v1h-4zM225 263h7v1h-7zM158 275h6v1h-6zM102 285h4v1h-4zM314 249h6v1h-6zM51 293h5v1h-5zM392 239h8v1h-8zM479 225h6v1h-6zM407 237h8v1h-8zM577 206h4v1h-4zM557 211h4v1h-4zM433 233h6v1h-6zM106 284h4v1h-4zM540 214h6v1h-6zM592 203h3v1h-3zM125 280h7v1h-7zM604 200h3v1h-3zM56 292h7v1h-7zM352 244h8v1h-8zM454 229h6v1h-6zM467 227h6v1h-6zM279 255h6v1h-6zM491 223h6v1h-6zM164 274h5v1h-5zM565 209h4v1h-4zM335 246h9v1h-9zM186 270h5v1h-5zM114 282h5v1h-5zM272 256h7v1h-7zM285 254h6v1h-6zM546 213h7v1h-7zM97 286h5v1h-5zM327 247h8v1h-8zM63 291h8v1h-8zM360 243h9v1h-9zM376 241h8v1h-8zM659 184h3v1h-3zM573 207h4v1h-4zM636 191h4v1h-4zM207 266h6v1h-6zM427 234h6v1h-6zM4 298h6v1h-6zM18 296h11v1h-11zM460 228h7v1h-7zM640 190h4v1h-4zM291 253h6v1h-6zM610 198h5v1h-5zM485 224h6v1h-6zM665 182h3v1h-3zM10 297h8v1h-8zM181 271h5v1h-5zM520 218h5v1h-5zM266 257h6v1h-6zM213 265h6v1h-6zM145 277h6v1h-6zM619 196h4v1h-4zM600 201h4v1h-4zM449 230h5v1h-5zM369 242h7v1h-7zM422 235h5v1h-5zM201 267h6v1h-6zM400 238h7v1h-7zM654 186h3v1h-3zM444 231h5v1h-5zM535 215h5v1h-5zM607 199h3v1h-3zM497 222h6v1h-6zM589 204h3v1h-3zM309 250h5v1h-5zM259 258h7v1h-7zM516 219h4v1h-4zM581 205h8v1h-8zM84 288h6v1h-6zM297 252h6v1h-6zM595 202h5v1h-5zM196 268h5v1h-5zM415 236h7v1h-7zM90 287h7v1h-7zM238 261h7v1h-7zM110 283h4v1h-4zM644 189h3v1h-3zM627 194h3v1h-3zM657 185h2v1h-2zM175 272h6v1h-6zM632 192h4v1h-4zM662 183h3v1h-3zM71 290h7v1h-7zM623 195h4v1h-4zM561 210h4v1h-4zM630 193h2v1h-2z"/>
<rect x="2" y="455" width="3" height="12" fill="#008000"/>
<rect x="6" y="458" width="3" height="9" fill="#FF0000"/>
<rect x="10" y="467" width="3" height="6" fill="#FF0000"/>
<rect x="14" y="467" width="3" height="7" fill="#FF0000"/>
<rect x="18" y="467" width="3" height="5" fill="#008000"/>
<rect x="22" y="467" width="3" height="4" fill="#008000"/>
<rect x="26" y="462" width="3" height="5" fill="#008000"/>
<rect x="30" y="461" width="3" height="6" fill="#008000"/>
<rect x="34" y="462" width="3" height="5" fill="#FF0000"/>
<rect x="38" y="464" width="3" height="3" fill="#FF0000"/>
<rect x="42" y="462" width="3" height="5" fill="#008000"/>
<rect x="46" y="450" width="3" height="17" fill="#008000"/>
<rect x="50" y="444" width="3" height="23" fill="#008000"/>
<rect x="54" y="435" width="3" height="32" fill="#008000"/>
<rect x="58" y="429" width="3" height="38" fill="#008000"/>
<rect x="62" y="426" width="3" height="41" fill="#008000"/>
<rect x="66" y="422" width="3" height="45" fill="#008000"/>
<rect x="70" y="426" width="3" height="41" fill="#FF0000"/>
<rect x="74" y="422" width="3" height="45" fill="#008000"/>
<rect x="78" y="413" width="3" height="54" fill="#008000"/>
<rect x="82" y="401" width="3" height="66" fill="#008000"/>
<rect x="86" y="393" width="3" height="74" fill="#008000"/>
<rect x="90" y="387" width="3" height="80" fill="#008000"/>
<rect x="94" y="380" width="3" height="87" fill="#008000"/>
<rect x="98" y="369" width="3" height="98" fill="#008000"/>
<rect x="102" y="362" width="3" height="105" fill="#008000"/>
<rect x="106" y="366" width="3" height="101" fill="#FF0000"/>
<rect x="110" y="372" width="3" height="95" fill="#FF0000"/>
<rect x="114" y="380" width="3" height="87" fill="#FF0000"/>
<rect x="118" y="380" width="3" height="87" fill="#FF0000"/>
<rect x="122" y="384" width="3" height="83" fill="#FF0000"/>
<rect x="126" y="394" width="3" height="73" fill="#FF0000"/>
<rect x="130" y="403" width="3" height="64" fill="#FF0000"/>
<rect x="134" y="408" width="3" height="59" fill="#FF0000"/>
<rect x="138" y="406" width="3" height="61" fill="#008000"/>
<rect x="142" y="401" width="3" height="66" fill="#008000"/>
<rect x="146" y="392" width="3" height="75" fill="#008000"/>
<rect x="150" y="394" width="3" height="73" fill="#FF0000"/>
<rect x="154" y="401" width="3" height="66" fill="#FF0000"/>
<rect x="158" y="413" width="3" height="54" fill="#FF0000"/>
<rect x="162" y="422" width="3" height="45" fill="#FF0000"/>
<rect x="166" y="426" width="3" height="41" fill="#FF0000"/>
<rect x="170" y="423" width="3" height="44" fill="#008000"/>
<rect x="174" y="412" width="3" height="55" fill="#008000"/>
<rect x="178" y="413" width="3" height="54" fill="#FF0000"/>
<rect x="182" y="413" width="3" height="54" fill="#FF0000"/>
<rect x="186" y="409" width="3" height="58" fill="#008000"/>
<rect x="190" y="405" width="3" height="62" fill="#008000"/>
<rect x="194" y="405" width="3" height="62" fill="#008000"/>
<rect x="198" y="410" width="3" height="57" fill="#FF0000"/>
<rect x="202" y="403" width="3" height="64" fill="#008000"/>
<rect x="206" y="402" width="3" height="65" fill="#008000"/>
<rect x="210" y="395" width="3" height="72" fill="#008000"/>
<rect x="214" y="414" width="3" height="53" fill="#FF0000"/>
<rect x="218" y="414" width="3" height="53" fill="#FF0000"/>
<rect x="222" y="410" width="3" height="57" fill="#008000"/>
<rect x="226" y="411" width="3" height="56" fill="#FF0000"/>
<rect x="230" y="412" width="3" height="55" fill="#FF0000"/>
<rect x="234" y="403" width="3" height="64" fill="#008000"/>
<rect x="238" y="410" width="3" height="57" fill="#FF0000"/>
<rect x="242" y="422" width="3" height="45" fill="#FF0000"/>
<rect x="246" y="444" width="3" height="23" fill="#FF0000"/>
<rect x="250" y="450" width="3" height="17" fill="#FF0000"/>
<rect x="254" y="449" width="3" height="18" fill="#008000"/>
<rect x="258" y="445" width="3" height="22" fill="#008000"/>
<rect x="262" y="446" width="3" height="21" fill="#FF0000"/>
<rect x="266" y="452" width="3" height="15" fill="#FF0000"/>
<rect x="270" y="453" width="3" height="14" fill="#FF0000"/>
<rect x="274" y="427" width="3" height="40" fill="#008000"/>
<rect x="278" y="416" width="3" height="51" fill="#008000"/>
<rect x="282" y="418" width="3" height="49" fill="#FF0000"/>
<rect x="286" y="426" width="3" height="41" fill="#FF0000"/>
<rect x="290" y="427" width="3" height="40" fill="#FF0000"/>
<rect x="294" y="418" width="3" height="49" fill="#008000"/>
<rect x="298" y="406" width="3" height="61" fill="#008000"/>
<rect x="302" y="392" width="3" height="75" fill="#008000"/>
<rect x="306" y="385" width="3" height="82" fill="#008000"/>
<rect x="310" y="388" width="3" height="79" fill="#FF0000"/>
<rect x="314" y="387" width="3" height="80" fill="#008000"/>
<rect x="318" y="391" width="3" height="76" fill="#FF0000"/>
<rect x="322" y="399" width="3" height="68" fill="#FF0000"/>
<rect x="326" y="409" width="3" height="58" fill="#FF0000"/>
<rect x="330" y="415" width="3" height="52" fill="#FF0000"/>
<rect x="334" y="410" width="3" height="57" fill="#008000"/>
<rect x="338" y="407" width="3" height="60" fill="#008000"/>
<rect x="342" y="412" width="3" height="55" fill="#FF0000"/>
<rect x="346" y="419" width="3" height="48" fill="#FF0000"/>
<rect x="350" y="424" width="3" height="43" fill="#FF0000"/>
<rect x="354" y="427" width="3" height="40" fill="#FF0000"/>
<rect x="358" y="425" width="3" height="42" fill="#008000"/>
<rect x="362" y="419" width="3" height="48" fill="#008000"/>
<rect x="366" y="413" width="3" height="54" fill="#008000"/>
<rect x="370" y="412" width="3" height="55" fill="#008000"/>
<rect x="374" y="412" width="3" height="55" fill="#008000"/>
<rect x="378" y="409" width="3" height="58" fill="#008000"/>
<rect x="382" y="417" width="3" height="50" fill="#FF0000"/>
<rect x="386" y="423" width="3" height="44" fill="#FF0000"/>
<rect x="390" y="427" width="3" height="40" fill="#FF0000"/>
<rect x="394" y="427" width="3" height="40" fill="#FF0000"/>
<rect x="398" y="421" width="3" height="46" fill="#008000"/>
<rect x="402" y="415" width="3" height="52" fill="#008000"/>
<rect x="406" y="414" width="3" height="53" fill="#008000"/>
<rect x="410" y="417" width="3" height="50" fill="#FF0000"/>
<rect x="414" y="420" width="3" height="47" fill="#FF0000"/>
<rect x="418" y="423" width="3" height="44" fill="#FF0000"/>
<rect x="422" y="420" width="3" height="47" fill="#008000"/>
<rect x="426" y="416" width="3" height="51" fill="#008000"/>
<rect x="430" y="414" width="3" height="53" fill="#008000"/>
<rect x="434" y="424" width="3" height="43" fill="#FF0000"/>
<rect x="438" y="428" width="3" height="39" fill="#FF0000"/>
<rect x="442" y="430" width="3" height="37" fill="#FF0000"/>
<rect x="446" y="430" width="3" height="37" fill="#FF0000"/>
<rect x="450" y="431" width="3" height="36" fill="#FF0000"/>
<rect x="454" y="431" width="3" height="36" fill="#FF0000"/>
<rect x="458" y="432" width="3" height="35" fill="#008000"/>
<rect x="462" y="429" width="3" height="38" fill="#008000"/>
<rect x="466" y="430" width="3" height="37" fill="#FF0000"/>
<rect x="470" y="428" width="3" height="39" fill="#008000"/>
<rect x="474" y="430" width="3" height="37" fill="#FF0000"/>
<rect x="478" y="429" width="3" height="38" fill="#008000"/>
<rect x="482" y="443" width="3" height="24" fill="#FF0000"/>
<rect x="486" y="453" width="3" height="14" fill="#FF0000"/>
<rect x="490" y="458" width="3" height="9" fill="#FF0000"/>
<rect x="494" y="462" width="3" height="5" fill="#FF0000"/>
<rect x="498" y="464" width="3" height="3" fill="#FF0000"/>
<rect x="502" y="465" width="3" height="2" fill="#FF0000"/>
<rect x="506" y="465" width="3" height="2" fill="#FF0000"/>
<rect x="510" y="467" width="3" height="4" fill="#FF0000"/>
<rect x="514" y="467" width="3" height="7" fill="#FF0000"/>
<rect x="518" y="467" width="3" height="4" fill="#008000"/>
<rect x="522" y="467" width="3" height="1" fill="#008000"/>
<rect x="526" y="461" width="3" height="6" fill="#008000"/>
<rect x="530" y="456" width="3" height="11" fill="#008000"/>
<rect x="534" y="453" width="3" height="14" fill="#008000"/>
<rect x="538" y="450" width="3" height="17" fill="#008000"/>
<rect x="542" y="448" width="3" height="19" fill="#008000"/>
<rect x="546" y="447" width="3" height="20" fill="#008000"/>
<rect x="550" y="451" width="3" height="16" fill="#FF0000"/>
<rect x="554" y="447" width="3" height="20" fill="#008000"/>
<rect x="558" y="446" width="3" height="21" fill="#008000"/>
<rect x="562" y="441" width="3" height="26" fill="#008000"/>
<rect x="566" y="435" width="3" height="32" fill="#008000"/>
<rect x="570" y="439" width="3" height="28" fill="#FF0000"/>
<rect x="574" y="443" width="3" height="24" fill="#FF0000"/>
<rect x="578" y="434" width="3" height="33" fill="#008000"/>
<rect x="582" y="435" width="3" height="32" fill="#FF0000"/>
<rect x="586" y="439" width="3" height="28" fill="#FF0000"/>
<rect x="590" y="440" width="3" height="27" fill="#FF0000"/>
<rect x="594" y="441" width="3" height="26" fill="#FF0000"/>
<rect x="598" y="441" width="3" height="26" fill="#FF0000"/>
<rect x="602" y="441" width="3" height="26" fill="#008000"/>
<rect x="606" y="440" width="3" height="27" fill="#008000"/>
<rect x="610" y="440" width="3" height="27" fill="#FF0000"/>
<rect x="614" y="435" width="3" height="32" fill="#008000"/>
<rect x="618" y="440" width="3" height="27" fill="#FF0000"/>
<rect x="622" y="440" width="3" height="27" fill="#FF0000"/>
<rect x="626" y="437" width="3" height="30" fill="#008000"/>
<rect x="630" y="438" width="3" height="29" fill="#FF0000"/>
<rect x="634" y="437" width="3" height="30" fill="#FF0000"/>
<rect x="638" y="439" width="3" height="28" fill="#FF0000"/>
<rect x="642" y="434" width="3" height="33" fill="#008000"/>
<rect x="646" y="430" width="3" height="37" fill="#008000"/>
<rect x="650" y="418" width="3" height="49" fill="#008000"/>
<rect x="654" y="408" width="3" height="59" fill="#008000"/>
<rect x="658" y="406" width="3" height="61" fill="#008000"/>
<rect x="662" y="402" width="3" height="65" fill="#008000"/>
<path fill="#C0C0C0" d="M344 412h2v1h-2zM174 419h2v1h-2zM177 419h4v1h-4zM411 419h2v1h-2zM420 419h4v1h-4zM425 419h13v1h-13zM579 439h2v1h-2zM588 439h12v1h-12zM621 439h6v1h-6zM186 415h2v1h-2zM351 415h2v1h-2zM377 415h2v1h-2zM386 415h2v1h-2zM74 426h2v1h-2zM230 411h2v1h-2zM233 411h4v1h-4zM242 411h2v1h-2zM20 466h2v1h-2zM34 466h2v1h-2zM512 466h2v1h-2zM602 441h2v1h-2zM605 441h8v1h-8zM452 430h4v1h-4zM473 430h9v1h-9zM360 423h4v1h-4zM365 423h2v1h-2zM398 423h2v1h-2zM401 423h5v1h-5zM444 423h2v1h-2zM568 444h2v1h-2zM295 421h2v1h-2zM369 421h2v1h-2zM440 421h2v1h-2zM209 404h6v1h-6zM456 431h4v1h-4zM461 431h12v1h-12zM183 417h2v1h-2zM348 414h3v1h-3zM379 414h7v1h-7zM546 452h2v1h-2zM581 438h7v1h-7zM627 438h13v1h-13zM641 438h2v1h-2zM548 451h5v1h-5zM573 442h4v1h-4zM647 435h2v1h-2zM293 422h2v1h-2zM367 422h2v1h-2zM396 422h2v1h-2zM406 422h2v1h-2zM442 422h2v1h-2zM543 454h2v1h-2zM600 440h2v1h-2zM613 440h8v1h-8zM553 450h4v1h-4zM25 469h2v1h-2zM28 469h2v1h-2zM518 469h9v1h-9zM206 405h3v1h-3zM215 405h3v1h-3zM570 443h3v1h-3zM643 437h2v1h-2zM268 449h3v1h-3zM557 449h4v1h-4zM192 410h2v1h-2zM227 410h3v1h-3zM237 410h5v1h-5zM45 461h3v1h-3zM194 409h3v1h-3zM225 409h2v1h-2zM340 409h2v1h-2zM172 418h2v1h-2zM181 418h2v1h-2zM373 418h2v1h-2zM390 418h2v1h-2zM413 418h7v1h-7zM297 420h2v1h-2zM393 420h2v1h-2zM409 420h2v1h-2zM438 420h2v1h-2zM197 408h4v1h-4zM223 408h2v1h-2zM8 464h10v1h-10zM38 464h3v1h-3zM509 464h2v1h-2zM143 402h6v1h-6zM151 400h2v1h-2zM158 400h2v1h-2zM23 468h2v1h-2zM30 468h2v1h-2zM516 468h2v1h-2zM527 468h2v1h-2zM41 463h2v1h-2zM203 406h3v1h-3zM218 406h2v1h-2zM336 406h2v1h-2zM32 467h2v1h-2zM514 467h2v1h-2zM111 370h6v1h-6zM201 407h2v1h-2zM220 407h3v1h-3zM43 462h2v1h-2zM506 462h2v1h-2zM264 448h4v1h-4zM561 448h2v1h-2zM153 399h5v1h-5zM76 425h2v1h-2zM18 465h2v1h-2zM36 465h2v1h-2zM531 465h2v1h-2zM72 427h2v1h-2zM563 447h2v1h-2zM566 445h2v1h-2zM118 372h2v1h-2zM346 413h2v1h-2zM319 389h3v1h-3zM322 390h2v1h-2zM645 436h2v1h-2zM141 401h2v1h-2zM149 401h2v1h-2zM86 412h1v2h-1zM168 412h1v1h-1zM190 412h1v1h-1zM232 412h1v1h-1zM244 412h1v2h-1zM303 412h1v2h-1zM663 412h1v2h-1zM82 419h1v2h-1zM247 418h1v2h-1zM298 419h1v1h-1zM356 419h1v1h-1zM372 419h1v1h-1zM392 419h1v1h-1zM659 419h1v1h-1zM63 438h1v2h-1zM257 438h1v2h-1zM279 439h1v1h-1zM488 438h1v2h-1zM640 439h1v1h-1zM95 395h1v2h-1zM136 395h1v1h-1zM313 395h1v2h-1zM327 395h1v1h-1zM85 414h1v2h-1zM170 415h1v1h-1zM245 414h1v2h-1zM302 414h1v2h-1zM661 415h1v2h-1zM251 426h1v2h-1zM289 426h1v1h-1zM448 426h1v1h-1zM655 425h1v2h-1zM87 410h1v2h-1zM167 410h1v2h-1zM191 411h1v1h-1zM304 410h1v2h-1zM343 411h1v1h-1zM664 411h1v1h-1zM6 466h1v1h-1zM530 466h1v1h-1zM62 440h1v2h-1zM259 441h1v2h-1zM278 440h1v2h-1zM490 441h1v2h-1zM577 441h1v1h-1zM69 430h1v1h-1zM252 428h1v3h-1zM286 430h1v2h-1zM652 430h1v1h-1zM79 423h1v1h-1zM249 422h1v2h-1zM292 423h1v1h-1zM656 423h1v2h-1zM67 432h1v1h-1zM253 431h1v2h-1zM285 432h1v1h-1zM460 432h1v1h-1zM483 432h1v1h-1zM650 432h1v1h-1zM60 444h1v2h-1zM261 444h1v1h-1zM275 444h1v2h-1zM492 444h1v2h-1zM81 421h1v1h-1zM248 420h1v2h-1zM358 421h1v1h-1zM395 421h1v1h-1zM408 421h1v1h-1zM658 420h1v2h-1zM90 404h1v2h-1zM163 404h1v1h-1zM308 403h1v2h-1zM335 404h1v2h-1zM68 431h1v1h-1zM482 431h1v1h-1zM651 431h1v1h-1zM84 416h1v2h-1zM171 416h1v2h-1zM246 416h1v2h-1zM300 417h1v1h-1zM354 417h1v1h-1zM375 417h1v1h-1zM389 417h1v1h-1zM660 417h1v2h-1zM66 433h1v2h-1zM254 433h1v2h-1zM284 433h1v1h-1zM484 433h1v1h-1zM649 433h1v1h-1zM169 413h1v2h-1zM188 414h1v1h-1zM662 414h1v1h-1zM55 452h1v1h-1zM497 452h1v1h-1zM280 438h1v1h-1zM56 450h1v2h-1zM496 450h1v2h-1zM96 392h1v3h-1zM135 394h1v1h-1zM314 394h1v1h-1zM326 394h1v1h-1zM94 397h1v2h-1zM138 398h1v1h-1zM311 398h1v2h-1zM329 397h1v2h-1zM61 442h1v2h-1zM277 442h1v1h-1zM604 442h1v1h-1zM65 435h1v1h-1zM255 435h1v2h-1zM282 435h1v2h-1zM485 434h1v2h-1zM80 422h1v1h-1zM359 422h1v1h-1zM657 422h1v1h-1zM134 392h1v2h-1zM315 393h1v1h-1zM325 392h1v2h-1zM53 454h1v1h-1zM498 453h1v2h-1zM258 440h1v1h-1zM489 440h1v1h-1zM578 440h1v1h-1zM271 450h1v1h-1zM99 385h1v3h-1zM130 386h1v2h-1zM47 460h1v1h-1zM504 460h1v1h-1zM537 460h1v1h-1zM4 469h1v1h-1zM164 405h1v2h-1zM307 405h1v1h-1zM260 443h1v1h-1zM276 443h1v1h-1zM491 443h1v1h-1zM64 436h1v2h-1zM256 437h1v1h-1zM281 437h1v1h-1zM487 437h1v1h-1zM57 449h1v1h-1zM272 449h1v1h-1zM495 449h1v1h-1zM342 410h1v1h-1zM665 409h1v2h-1zM505 461h1v1h-1zM536 461h1v1h-1zM71 428h1v1h-1zM288 427h1v2h-1zM450 428h1v1h-1zM653 428h1v2h-1zM106 375h1v2h-1zM122 375h1v1h-1zM88 408h1v2h-1zM166 409h1v1h-1zM305 408h1v2h-1zM83 418h1v1h-1zM299 418h1v1h-1zM355 418h1v1h-1zM103 379h1v2h-1zM126 380h1v2h-1zM123 376h1v1h-1zM283 434h1v1h-1zM648 434h1v1h-1zM176 420h1v1h-1zM357 420h1v1h-1zM371 420h1v1h-1zM424 420h1v1h-1zM165 407h1v2h-1zM339 408h1v1h-1zM666 408h1v1h-1zM70 429h1v1h-1zM287 429h1v1h-1zM451 429h1v1h-1zM533 464h1v1h-1zM52 455h1v1h-1zM499 455h1v1h-1zM542 455h1v1h-1zM92 401h1v2h-1zM161 402h1v1h-1zM309 401h1v2h-1zM333 402h1v1h-1zM137 396h1v2h-1zM312 397h1v1h-1zM93 399h1v2h-1zM140 400h1v1h-1zM310 400h1v1h-1zM331 400h1v1h-1zM5 467h1v2h-1zM508 463h1v1h-1zM534 463h1v1h-1zM89 406h1v2h-1zM306 406h1v2h-1zM22 467h1v1h-1zM529 467h1v1h-1zM107 374h1v1h-1zM121 374h1v1h-1zM338 407h1v1h-1zM667 407h1v1h-1zM535 462h1v1h-1zM58 447h1v2h-1zM273 447h1v2h-1zM494 447h1v2h-1zM139 399h1v1h-1zM330 399h1v1h-1zM250 424h1v2h-1zM290 425h1v1h-1zM447 425h1v1h-1zM7 465h1v1h-1zM511 465h1v1h-1zM449 427h1v1h-1zM654 427h1v1h-1zM263 446h1v2h-1zM262 445h1v1h-1zM50 457h1v1h-1zM501 457h1v1h-1zM540 457h1v1h-1zM109 372h1v1h-1zM189 413h1v1h-1zM98 388h1v2h-1zM132 389h1v2h-1zM97 390h1v2h-1zM318 390h1v1h-1zM185 416h1v1h-1zM301 416h1v1h-1zM353 416h1v1h-1zM376 416h1v1h-1zM388 416h1v1h-1zM54 453h1v1h-1zM545 453h1v1h-1zM110 371h1v1h-1zM117 371h1v1h-1zM3 470h1v2h-1zM27 470h1v1h-1zM486 436h1v1h-1zM104 378h1v1h-1zM124 377h1v2h-1zM133 391h1v1h-1zM317 391h1v1h-1zM324 391h1v1h-1zM328 396h1v1h-1zM49 458h1v1h-1zM502 458h1v1h-1zM539 458h1v1h-1zM160 401h1v1h-1zM332 401h1v1h-1zM78 424h1v1h-1zM291 424h1v1h-1zM364 424h1v1h-1zM400 424h1v1h-1zM446 424h1v1h-1zM100 384h1v1h-1zM128 383h1v2h-1zM105 377h1v1h-1zM101 382h1v2h-1zM127 382h1v1h-1zM59 446h1v1h-1zM274 446h1v1h-1zM493 446h1v1h-1zM565 446h1v1h-1zM108 373h1v1h-1zM120 373h1v1h-1zM102 381h1v1h-1zM91 403h1v1h-1zM162 403h1v1h-1zM334 403h1v1h-1zM51 456h1v1h-1zM500 456h1v1h-1zM541 456h1v1h-1zM125 379h1v1h-1zM129 385h1v1h-1zM316 392h1v1h-1zM48 459h1v1h-1zM503 459h1v1h-1zM538 459h1v1h-1zM131 388h1v1h-1z"/>
<rect x="2" y="2" width="693" height="1" fill="#000"/>
<rect x="2" y="353" width="693" height="1" fill="#000"/>
<rect x="2" y="2" width="1" height="352" fill="#000"/>
<rect x="694" y="2" width="1" height="478" fill="#000"/>
<rect x="2" y="355" width="693" height="1" fill="#000"/>
<rect x="2" y="479" width="693" height="1" fill="#000"/>
<rect x="2" y="355" width="1" height="125" fill="#000"/>
<rect x="694" y="355" width="1" height="125" fill="#000"/>
<rect x="695" y="86" width="2" height="1" fill="#000"/>
<rect x="695" y="152" width="2" height="1" fill="#000"/>
<rect x="695" y="185" width="2" height="1" fill="#000"/>
<rect x="695" y="218" width="2" height="1" fill="#000"/>
<rect x="695" y="251" width="2" height="1" fill="#000"/>
<rect x="695" y="284" width="2" height="1" fill="#000"/>
<rect x="695" y="317" width="2" height="1" fill="#000"/>
<rect x="695" y="350" width="2" height="1" fill="#000"/>
<rect x="695" y="357" width="2" height="1" fill="#000"/>
<rect x="695" y="467" width="2" height="1" fill="#000"/>
<rect x="695" y="479" width="2" height="1" fill="#000"/>
<rect x="3" y="480" width="1" height="3" fill="#000"/>
<rect x="67" y="480" width="1" height="3" fill="#000"/>
<rect x="131" y="480" width="1" height="3" fill="#000"/>
<rect x="195" y="480" width="1" height="3" fill="#000"/>
<rect x="259" y="480" width="1" height="3" fill="#000"/>
<rect x="323" y="480" width="1" height="3" fill="#000"/>
<rect x="387" y="480" width="1" height="3" fill="#000"/>
<rect x="451" y="480" width="1" height="3" fill="#000"/>
<rect x="515" y="480" width="1" height="3" fill="#000"/>
<rect x="579" y="480" width="1" height="3" fill="#000"/>
<rect x="643" y="480" width="1" height="3" fill="#000"/>
<rect x="6" y="9" width="7" height="1" fill="#000"/>
<rect x="7" y="10" width="5" height="1" fill="#000"/>
<rect x="8" y="11" width="3" height="1" fill="#000"/>
<rect x="9" y="12" width="1" height="1" fill="#000"/>
<g font-family="'Liberation Sans', Arial, sans-serif" font-size="10px" text-rendering="geometricPrecision" stroke="#000" stroke-width="0.25" paint-order="stroke">
<text x="700.2" y="90" textLength="33.5" lengthAdjust="spacingAndGlyphs" fill="#000">106.905</text>
<text x="700.2" y="156" textLength="33.5" lengthAdjust="spacingAndGlyphs" fill="#000">106.430</text>
<text x="700.2" y="189" textLength="33.5" lengthAdjust="spacingAndGlyphs" fill="#000">106.195</text>
<text x="700.2" y="222" textLength="33.5" lengthAdjust="spacingAndGlyphs" fill="#000">105.955</text>
<text x="700.2" y="255" textLength="33.5" lengthAdjust="spacingAndGlyphs" fill="#000">105.720</text>
<text x="700.2" y="288" textLength="33.5" lengthAdjust="spacingAndGlyphs" fill="#000">105.480</text>
<text x="700.2" y="321" textLength="33.5" lengthAdjust="spacingAndGlyphs" fill="#000">105.245</text>
<text x="700.2" y="354" textLength="33.5" lengthAdjust="spacingAndGlyphs" fill="#000">105.005</text>
<text x="698" y="366" textLength="38" lengthAdjust="spacingAndGlyphs" fill="#000">0.412986</text>
<text x="698" y="471" textLength="18" lengthAdjust="spacingAndGlyphs" fill="#000">0.00</text>
<text x="698.3" y="476" textLength="41" lengthAdjust="spacingAndGlyphs" fill="#000">-0.044293</text>
<text x="2" y="492" textLength="51" lengthAdjust="spacingAndGlyphs" fill="#000">23 Feb 2021</text>
<text x="66" y="492" textLength="55" lengthAdjust="spacingAndGlyphs" fill="#000">24 Feb 07:00</text>
<text x="130" y="492" textLength="55" lengthAdjust="spacingAndGlyphs" fill="#000">24 Feb 23:00</text>
<text x="194" y="492" textLength="55" lengthAdjust="spacingAndGlyphs" fill="#000">25 Feb 15:00</text>
<text x="258" y="492" textLength="55" lengthAdjust="spacingAndGlyphs" fill="#000">26 Feb 07:00</text>
<text x="322" y="492" textLength="50" lengthAdjust="spacingAndGlyphs" fill="#000">1 Mar 00:00</text>
<text x="386" y="492" textLength="50" lengthAdjust="spacingAndGlyphs" fill="#000">1 Mar 16:00</text>
<text x="450" y="492" textLength="50" lengthAdjust="spacingAndGlyphs" fill="#000">2 Mar 08:00</text>
<text x="514" y="492" textLength="50" lengthAdjust="spacingAndGlyphs" fill="#000">3 Mar 00:00</text>
<text x="578" y="492" textLength="50" lengthAdjust="spacingAndGlyphs" fill="#000">3 Mar 16:00</text>
<text x="642" y="492" textLength="50" lengthAdjust="spacingAndGlyphs" fill="#000">4 Mar 08:00</text>
<text x="17.8" y="14" textLength="51.5" lengthAdjust="spacingAndGlyphs" fill="#000">USDJPY,H1</text>
<text x="75.2" y="14" textLength="33" lengthAdjust="spacingAndGlyphs" fill="#000">107.339</text>
<text x="111" y="14" textLength="34.5" lengthAdjust="spacingAndGlyphs" fill="#000">107.380</text>
<text x="147.3" y="14" textLength="33" lengthAdjust="spacingAndGlyphs" fill="#000">107.324</text>
<text x="183" y="14" textLength="33.5" lengthAdjust="spacingAndGlyphs" fill="#000">107.369</text>
<text x="7.3" y="368" textLength="85" lengthAdjust="spacingAndGlyphs" fill="#000">MACD_color(5,34,5)</text>
<text x="94.3" y="368" textLength="39" lengthAdjust="spacingAndGlyphs" fill="#000">0.000000</text>
<text x="136.3" y="368" textLength="37.5" lengthAdjust="spacingAndGlyphs" fill="#000">0.000000</text>
<text x="176.5" y="368" textLength="38.5" lengthAdjust="spacingAndGlyphs" fill="#000">0.225650</text>
<rect x="695" y="53" width="1" height="1" fill="#000"/>
<rect x="696" y="47" width="41" height="11" fill="#FF0000"/>
<text x="700.2" y="56" textLength="33.5" lengthAdjust="spacingAndGlyphs" fill="#fff" stroke="#fff" stroke-width="0.15">107.144</text>
<rect x="695" y="122" width="1" height="1" fill="#000"/>
<rect x="696" y="116" width="41" height="11" fill="#FF0000"/>
<text x="700.2" y="125" textLength="33.5" lengthAdjust="spacingAndGlyphs" fill="#fff" stroke="#fff" stroke-width="0.15">106.648</text>
<rect x="695" y="162" width="1" height="1" fill="#000"/>
<rect x="696" y="156" width="41" height="11" fill="#FF0000"/>
<text x="700.2" y="165" textLength="33.5" lengthAdjust="spacingAndGlyphs" fill="#fff" stroke="#fff" stroke-width="0.15">106.357</text>
<rect x="695" y="181" width="1" height="1" fill="#000"/>
<rect x="696" y="175" width="41" height="11" fill="#FF0000"/>
<text x="700.2" y="184" textLength="33.5" lengthAdjust="spacingAndGlyphs" fill="#fff" stroke="#fff" stroke-width="0.15">106.220</text>
<rect x="695" y="238" width="1" height="1" fill="#000"/>
<rect x="696" y="232" width="41" height="11" fill="#FF0000"/>
<text x="700.2" y="241" textLength="33.5" lengthAdjust="spacingAndGlyphs" fill="#fff" stroke="#fff" stroke-width="0.15">105.815</text>
<rect x="695" y="326" width="1" height="1" fill="#000"/>
<rect x="696" y="320" width="41" height="11" fill="#FF0000"/>
<text x="700.2" y="329" textLength="33.5" lengthAdjust="spacingAndGlyphs" fill="#fff" stroke="#fff" stroke-width="0.15">105.183</text>
<rect x="695" y="22" width="1" height="1" fill="#000"/>
<rect x="696" y="17" width="41" height="11" fill="#000"/>
<text x="700.2" y="26" textLength="33.5" lengthAdjust="spacingAndGlyphs" fill="#fff" stroke="#fff" stroke-width="0.15">107.369</text>
</g></svg>
</body></html>
